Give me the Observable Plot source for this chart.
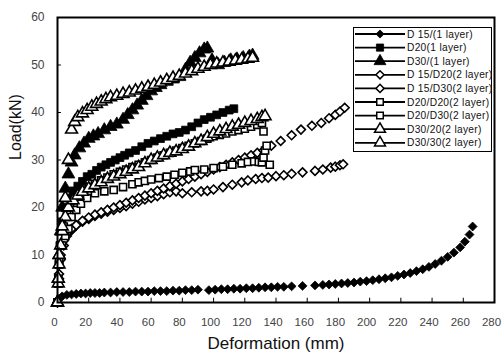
<!DOCTYPE html>
<html>
<head>
<meta charset="utf-8">
<script src="https://cdn.jsdelivr.net/npm/d3@7"></script>
<script src="https://cdn.jsdelivr.net/npm/@observablehq/plot@0.6"></script>
<style>
  html, body { margin: 0; padding: 0; background: #fff; }
  #wrap { position: relative; width: 503px; height: 359px; overflow: hidden; }
  #legend { position: absolute; left: 353px; top: 27px; }
</style>
</head>
<body>
<div id="wrap"><div id="chart"></div><div id="legend"></div></div>
<script>
// ---- tick values ----
const xTicks = [0, 20, 40, 60, 80, 100, 120, 140, 160, 180, 200, 220, 240, 260, 280];
const yTicks = [0, 10, 20, 30, 40, 50, 60];

// ---- series names ----
const seriesNames = [
  "D 15/(1 layer)", "D20(1 layer)", "D30/(1 layer)",
  "D 15/D20(2 layer)", "D 15/D30(2 layer)", "D20/D20(2 layer)",
  "D20/D30(2 layer)", "D30/20(2 layer)", "D30/30(2 layer)"
];

// ---- series values (Deformation mm, Load kN) ----
const d15_1_x = [0,1,3,6,9,12,15,18,21,24,27,30,34,38,42,46,50,54,58,62,66,70,74,78,82,86,90,97,101,105,109,113,117,121,125,129,133,137,141,145,150,157,165,170,174,178,182,186,190,194,198,202,206,210,214,218,222,226,230,234,238,242,246,250,254,258,261,264,266];
const d15_1_y = [0,0.8,1.3,1.6,1.7,1.8,1.9,1.9,2.0,2.0,2.0,2.1,2.1,2.2,2.2,2.2,2.3,2.3,2.3,2.4,2.4,2.4,2.5,2.5,2.6,2.6,2.7,2.6,2.7,2.8,2.8,2.9,2.9,3.0,3.0,3.1,3.2,3.2,3.3,3.3,3.4,3.5,3.6,3.7,3.8,3.9,4.0,4.1,4.2,4.4,4.5,4.7,4.9,5.1,5.3,5.6,5.9,6.2,6.6,7.0,7.5,8.1,8.8,9.6,10.5,11.6,12.8,14.3,16.0];

const d20_1_x = [0,0.5,1,1.5,3,5,7,10,13,16,19,22,25,28,31,34,37,40,43,46,50,54,58,62,66,70,74,78,82,86,90,94,98,102,106,110,113];
const d20_1_y = [0,4,8,12,17,20,22,23.5,24.5,25.5,26.5,27,27.8,28.5,29,29.5,30,30.5,31,31.5,32,32.8,33.5,34,34.5,35,35.5,35.8,36.3,37,37.8,38.5,39,39.5,40,40.5,40.8];

const d30_1_x = [0,0.5,1,2,3,5,7,9,11,14,17,20,23,26,30,34,38,42,45,48,51,54,57,60,63,66,70,74,78,82,85,88,91,94,96,99,103,107,111,115,119,123,125];
const d30_1_y = [0,5,10,15,20,24,27,29.5,31,32.5,33.5,34.5,35,35.5,36.3,37,37.5,38.5,39.5,40.5,41.5,42.5,43.5,44.5,45.2,45.8,46.5,47,47.5,49,50.5,51.5,52.5,53.3,53.5,51,50,50.5,51,51.2,51.5,51.8,52];

const d15d20_x = [0,1,2,4,6,9,12,16,20,24,28,32,36,40,44,48,52,56,60,64,68,72,76,80,86,92,96,100,106,112,118,122,127,131,135,140,145,150,157,165,170,175,178,181,183];
const d15d20_y = [0,5,9,12,14,15.2,16.2,17,17.6,18.2,18.7,19.1,19.5,19.9,20.3,20.8,21.2,21.7,22,22.4,22.8,23.2,23.4,23,23.2,23.4,23.5,23.8,24.3,24.8,25.3,25.7,26,26.2,26.3,26.6,26.8,27.1,27.4,27.7,28,28.4,28.6,28.9,29.1];

const d15d30_x = [0,1,2,4,6,9,12,16,20,24,28,32,36,40,44,48,52,56,60,64,68,72,76,80,84,88,92,96,100,104,108,112,116,120,124,128,132,137,143,150,156,163,169,174,178,181,184];
const d15d30_y = [0,6,10,13,14.5,15.5,16.3,17.2,17.9,18.5,19,19.5,20,20.5,21,21.5,22,22.5,23,23.5,24,24.5,25,25.5,26,26.5,27,27.5,28,28.5,29,29.5,30,30.5,31,31.5,32,33,34,35.2,36.4,37.2,37.8,38.8,39.5,40.2,41];

const d20d20_x = [0,0.5,1,2,4,6,8,11,14,17,20,24,28,32,36,40,44,48,52,56,60,64,68,72,76,80,84,88,92,96,100,104,108,112,116,120,124,128,131,132];
const d20d20_y = [0,4,8,12,16,18.5,20,21.5,22.5,23.5,24.3,25,25.7,26.3,27,27.5,28,28.5,29,29.5,30,30.5,31,31.5,32,32.5,33,33.5,34,34.5,35,35.3,35.6,36,36.3,36.6,37,37.4,37.8,36];

const d20d30_x = [0,0.5,1,3,5,7,9,12,15,19,24,30,36,42,48,52,56,60,65,70,75,80,85,88,94,100,106,112,118,122,126,129,131,132,133,134,136];
const d20d30_y = [0,5,9,12,14,15.5,18,19.5,20.8,22,23,23.4,23.7,24.3,24.9,25.3,25.6,25.9,26.2,26.5,26.9,27.3,27.6,27.9,28,28.3,28.6,29,29.3,29.6,29.7,29.6,29.5,30.5,32,33,29];

const d30_20_x = [0,0.5,1,2,3,5,7,10,13,16,20,24,28,32,36,40,44,48,52,56,60,64,68,72,76,80,84,88,92,96,100,104,108,112,116,120,124,128,131,133];
const d30_20_y = [0,4,8,12,15,18,20,21.5,22.5,23.3,24,24.7,25.3,26,26.5,27,27.5,28,28.5,29.3,30,30.5,31,31.5,31.8,32.3,32.8,33.5,34,34.8,35.5,36,36.5,37,37.4,37.8,38.2,38.6,39,39.2];

const d30_30_x = [0,0.5,1,3,5,7,9,11,13,16,19,22,25,28,31,34,38,42,46,50,54,58,62,66,70,74,78,82,86,90,94,98,102,106,110,114,118,122,125];
const d30_30_y = [0,5,10,16,22,30,36.4,38,39,39.8,40.5,41.2,41.8,42.3,42.8,43.2,43.5,43.9,44.2,44.6,45,45.4,45.8,46.3,46.8,47.3,47.7,48.2,48.7,49.2,49.6,50,50.3,50.5,50.7,50.9,51.1,51.3,51.5];

const seriesX = [d15_1_x, d20_1_x, d30_1_x, d15d20_x, d15d30_x, d20d20_x, d20d30_x, d30_20_x, d30_30_x];
const seriesY = [d15_1_y, d20_1_y, d30_1_y, d15d20_y, d15d30_y, d20d20_y, d20d30_y, d30_20_y, d30_30_y];

// marker styles per series
const symbols = ["diamond2", "square", "triangle", "diamond2", "diamond2", "square", "square", "triangle", "triangle"];
const filled  = [true, true, true, false, false, false, false, false, false];
const radius  = [4.0, 4.4, 4.8, 4.0, 4.0, 4.0, 4.0, 4.4, 4.4];

const tables = seriesX.map((xs, i) => xs.map((x, j) => ({x, y: seriesY[i][j], s: seriesNames[i]})));

const dotMarks = tables.map((t, i) => Plot.dot(t, {
  x: "x", y: "y", symbol: () => symbols[i], r: radius[i],
  fill: filled[i] ? "#000" : "#fff",
  stroke: "#000", strokeWidth: filled[i] ? 0.8 : 1.6
}));

const chart = Plot.plot({
  width: 503, height: 359,
  marginLeft: 57, marginRight: 9, marginTop: 17, marginBottom: 57,
  x: {domain: [0, 280]},
  y: {domain: [0, 60]},
  symbol: {type: "identity"},
  style: {background: "#fff", fontFamily: "'Liberation Sans', Arial, sans-serif"},
  marks: [
    Plot.ruleX(xTicks, {x: d => d, y1: 0, y2: 0.9, stroke: "#000", strokeWidth: 1}),
    Plot.ruleY(yTicks, {y: d => d, x1: 0, x2: 2.5, stroke: "#000", strokeWidth: 1}),
    Plot.axisX(xTicks, {tickSize: 0, tickPadding: 15, label: null, fontSize: 11.5, fill: "#444", dx: -3, style: "letter-spacing:0.8px"}),
    Plot.axisY(yTicks, {tickSize: 0, tickPadding: 13, label: null, fontSize: 12, fill: "#444", style: "letter-spacing:1px"}),
    Plot.text(["Deformation (mm)"], {frameAnchor: "bottom", dy: 46, fontSize: 17, fill: "#111", style: "letter-spacing:1.6px"}),
    Plot.text(["Load(kN)"], {frameAnchor: "left", dx: -42, rotate: -90, fontSize: 16, fill: "#111", style: "letter-spacing:0.5px"}),
    ...dotMarks,
    Plot.frame({stroke: "#000", strokeWidth: 2})
  ]
});
document.getElementById("chart").appendChild(chart);

// ---- legend ----
const lw = 139, lh = 125;
const lsvg = d3.select("#legend").append("svg").attr("width", lw).attr("height", lh)
  .style("font-family", "'Liberation Sans', Arial, sans-serif");
lsvg.append("rect").attr("x", 0.5).attr("y", 0.5).attr("width", lw - 1).attr("height", lh - 1)
  .attr("fill", "#fff").attr("stroke", "#000").attr("stroke-width", 1);
const symMap = {diamond2: d3.symbolDiamond2, square: d3.symbolSquare, triangle: d3.symbolTriangle};
seriesNames.forEach((name, i) => {
  const cy = 7 + i * 13.6;
  const g = lsvg.append("g");
  g.append("line").attr("x1", 2).attr("x2", 52).attr("y1", cy).attr("y2", cy)
    .attr("stroke", "#000").attr("stroke-width", 1.8);
  g.append("path").attr("transform", `translate(27,${cy})`)
    .attr("d", d3.symbol(symMap[symbols[i]], Math.PI * radius[i] * radius[i] * 0.85)())
    .attr("fill", filled[i] ? "#000" : "#fff").attr("stroke", "#000")
    .attr("stroke-width", filled[i] ? 0.8 : 1.5);
  g.append("text").attr("x", 54).attr("y", cy).attr("dy", "0.35em")
    .attr("font-size", 10.2).attr("fill", "#111").style("letter-spacing", "0.3px").text(name);
});
</script>
</body>
</html>
